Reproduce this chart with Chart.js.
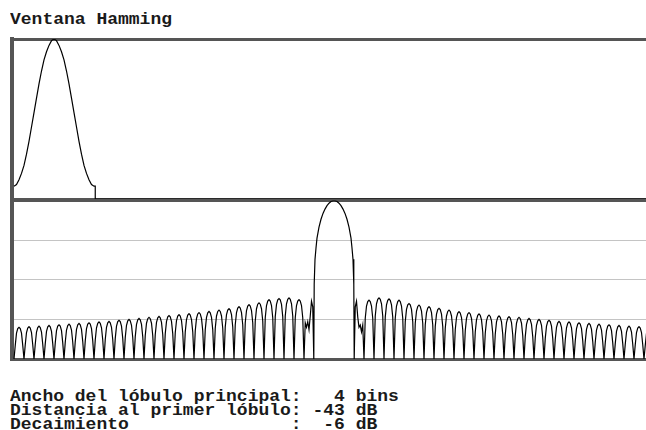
<!DOCTYPE html>
<html>
<head>
<meta charset="utf-8">
<script src="https://cdn.jsdelivr.net/npm/chart.js@4.4.1/dist/chart.umd.min.js"></script>
<style>
  html, body { margin: 0; padding: 0; background: #fff; }
  #wrap { position: relative; width: 646px; height: 430px; overflow: hidden; background: #fff; }
  #wrap canvas { position: absolute; left: 0; }
  .txt {
    position: absolute; left: 10px; margin: 0;
    font-family: "Liberation Mono", monospace; font-weight: bold; font-size: 16px;
    line-height: 16px; white-space: pre; color: #1a1a1a;
    transform-origin: 0 0; transform: scaleX(1.125);
  }
</style>
</head>
<body>
<div id="wrap">
  <div class="txt" style="top:12px">Ventana Hamming</div>
  <canvas id="winChart" width="646" height="210" style="top:0"></canvas>
  <canvas id="specChart" width="646" height="180" style="top:190px"></canvas>
  <div class="txt" style="top:389px">Ancho del lóbulo principal:   4 bins</div>
  <div class="txt" style="top:403px">Distancia al primer lóbulo: -43 dB</div>
  <div class="txt" style="top:417px">Decaimiento               :  -6 dB</div>
</div>
<script>
// ---- time domain: Hamming window (samples) followed by zero padding ----
const windowSamples = [0, 2, 4, 6, 8, 10, 12, 14, 16, 18, 20, 22, 24, 26, 28, 30, 32,
                       34, 36, 38, 40, 42, 44, 46, 48, 50, 52, 54, 56, 58, 60, 62, 64];
const windowValues  = [0.08, 0.09, 0.12, 0.16, 0.21, 0.28, 0.36, 0.45, 0.54, 0.63, 0.72, 0.80, 0.87, 0.92, 0.96, 0.99, 1.00,
                       0.99, 0.96, 0.92, 0.87, 0.80, 0.72, 0.63, 0.54, 0.45, 0.36, 0.28, 0.21, 0.16, 0.12, 0.09, 0.08];
const paddedEnd = 505.6;       // last visible sample of the zero-padded frame

// ---- frequency domain (bins, dB) ----
const dbFloor = -70;
// main lobe
const mainLobeBins = [-2.02, -1.98, -1.9, -1.8, -1.7, -1.5, -1.3, -1.1, -0.9, -0.7, -0.5, -0.3, -0.1, 0,
                      0.1, 0.3, 0.5, 0.7, 0.9, 1.1, 1.3, 1.5, 1.7, 1.8, 1.9, 1.98, 2.02];
const mainLobeDb   = [-70, -37, -26, -21, -16.6, -11.8, -8.3, -5.7, -3.8, -2.3, -1.2, -0.45, -0.05, 0,
                      -0.05, -0.45, -1.2, -2.3, -3.8, -5.7, -8.3, -11.8, -16.6, -21, -26, -37, -70];
// irregular first side lobes next to the main lobe
const innerLeftBins  = [-3, -2.875, -2.75, -2.625, -2.5, -2.375, -2.25, -2.125];
const innerLeftDb    = [-70, -54, -56, -53.5, -57, -51, -44.5, -47];
const innerRightBins = [2.125, 2.25, 2.375, 2.5, 2.625, 2.75, 2.875, 3];
const innerRightDb   = [-47, -44.5, -51.5, -56, -55, -58, -55, -70];
// side lobe tops, one per bin: left lobes start at bin -32, right lobes at bin 3
const leftLobeStart  = -32;
const leftLobePeaks  = [-56, -55.7, -55.5, -55.2, -54.9, -54.6, -54.3, -54, -53.6, -53.4,
                        -52.9, -52.5, -52.1, -51.6, -51.2, -50.8, -50.4, -50, -49.5, -49,
                        -48.4, -47.8, -46.9, -46, -45.2, -43.8, -43.3, -43, -43.8];
const rightLobeStart = 3;
const rightLobePeaks = [-44, -43, -43.5, -44, -45.5, -46.2, -46.9, -47.6, -48.4, -49.1,
                        -49.5, -50.1, -50.6, -51, -51.3, -51.6, -52.1, -52.5, -52.9, -53.4,
                        -53.6, -54, -54.3, -54.6, -54.9, -55.2, -55.5, -55.7, -56];
// shape of one side lobe, dB below its top at eighth-bin steps
const lobeSteps   = [0.125, 0.25, 0.375, 0.5, 0.625, 0.75, 0.875];
const lobeProfile = [-8, -2.6, -0.6, 0, -0.6, -2.6, -8];

// ---- build point tables ----
const winPoints = windowSamples.map((s, i) => ({ x: s, y: windowValues[i] }));
winPoints.push({ x: 65, y: 0.08 }, { x: 65, y: 0 }, { x: paddedEnd, y: 0 });

function lobePoints(start, peaks) {
  const pts = [];
  peaks.forEach((p, i) => {
    const k = start + i;
    pts.push({ x: k, y: dbFloor });
    lobeSteps.forEach((s, j) => pts.push({ x: k + s, y: p + lobeProfile[j] }));
  });
  return pts;
}
const pairs = (xs, ys) => xs.map((x, i) => ({ x, y: ys[i] }));
const specPoints = [].concat(
  lobePoints(leftLobeStart, leftLobePeaks),
  pairs(innerLeftBins, innerLeftDb),
  pairs(mainLobeBins, mainLobeDb),
  pairs(innerRightBins, innerRightDb),
  lobePoints(rightLobeStart, rightLobePeaks)
);

const frame = '#555555';
const gridLight = '#c4c4c4';

Chart.defaults.animation = false;

new Chart(document.getElementById('winChart'), {
  type: 'line',
  data: { datasets: [{ data: winPoints, borderColor: '#000', borderWidth: 1.2, pointRadius: 0, tension: 0, fill: false }] },
  options: {
    responsive: false,
    events: [],
    layout: { padding: { left: 12, right: 0, top: 39, bottom: 11 } },
    plugins: { legend: { display: false }, tooltip: { enabled: false }, title: { display: false } },
    scales: {
      x: { type: 'linear', min: -1.6, max: paddedEnd, display: false },
      y: {
        type: 'linear', min: 0, max: 1,
        ticks: { display: false, stepSize: 1 },
        grid: { drawTicks: false, color: frame, lineWidth: 3 },
        border: { display: true, color: frame, width: 4 }
      }
    }
  }
});

new Chart(document.getElementById('specChart'), {
  type: 'line',
  data: { datasets: [{ data: specPoints, borderColor: '#000', borderWidth: 1.2, pointRadius: 0, tension: 0, fill: false }] },
  options: {
    responsive: false,
    events: [],
    layout: { padding: { left: 12, right: 0, top: 10.5, bottom: 11 } },
    plugins: { legend: { display: false }, tooltip: { enabled: false }, title: { display: false } },
    scales: {
      x: { type: 'linear', min: -32.2, max: 31.2, display: false },
      y: {
        type: 'linear', min: dbFloor, max: 0,
        ticks: { display: false, stepSize: 17.5 },
        grid: {
          drawTicks: false,
          color: c => (c.tick.value === 0 || c.tick.value === dbFloor) ? frame : gridLight,
          lineWidth: c => (c.tick.value === 0 || c.tick.value === dbFloor) ? 3 : 1
        },
        border: { display: true, color: frame, width: 4 }
      }
    }
  }
});
</script>
</body>
</html>
